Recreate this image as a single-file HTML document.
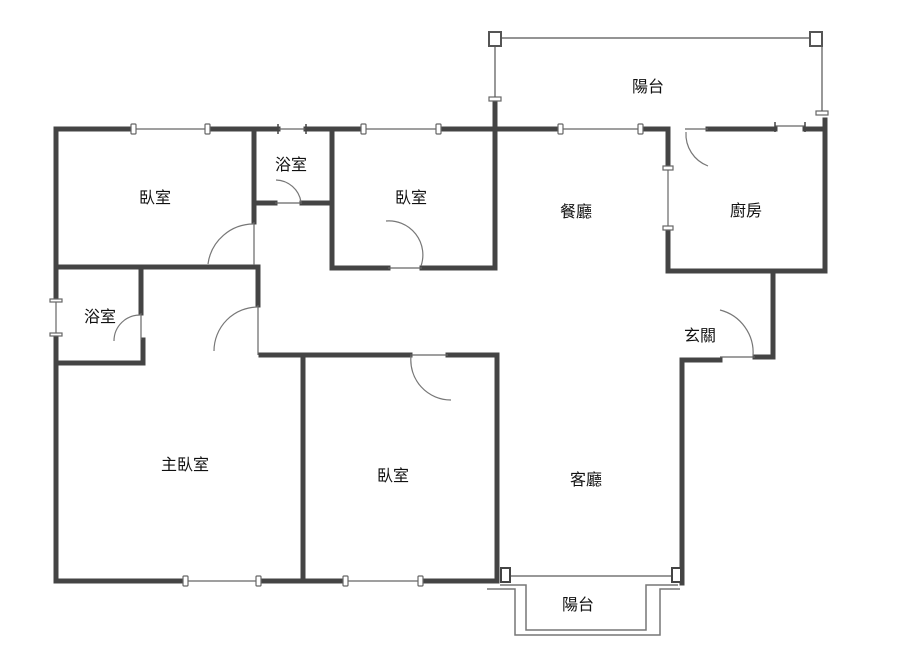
<!DOCTYPE html>
<html><head><meta charset="utf-8"><style>
html,body{margin:0;padding:0;background:#fff;width:900px;height:649px;overflow:hidden}
svg text{font-family:"Liberation Sans","Noto Sans CJK TC",sans-serif;font-size:16px;fill:#111;text-anchor:middle;dominant-baseline:middle}
</style></head><body>
<svg width="900" height="649" viewBox="0 0 900 649" xmlns="http://www.w3.org/2000/svg">
<g stroke="#444" stroke-width="5" fill="none" stroke-linecap="square">
<!-- top wall -->
<path d="M56 129H133 M208 129H278 M306 129H363 M438 129H560 M640 129H668 M708 129H775 M805 129H825"/>
<!-- left wall -->
<path d="M56 129V300 M56 335V581"/>
<!-- bottom -->
<path d="M56 581H185 M258 581H345 M420 581H497"/>
<!-- bedroom1 -->
<path d="M254 129V222 M56 267H257 M258 267V305"/>
<!-- small bath -->
<path d="M141 267V313 M143 340V363 M56 363H143"/>
<!-- upper bath -->
<path d="M256 203H275 M302 203H332 M332 129V268 M332 268H388 M422 268H495"/>
<!-- dining left wall -->
<path d="M495 100V268"/>
<!-- bedroom lower -->
<path d="M261 355H410 M448 355H497 M303 355V581 M497 355V581"/>
<!-- kitchen -->
<path d="M668 129V168 M668 228V271 M668 271H825 M825 120V271 M773 271V357 M755 357H773 M682 360H720 M682 360V583"/>
</g>
<!-- windows -->
<g stroke="#666" stroke-width="1.2" fill="#fff">
<path d="M133 129H208 M278 129H306 M363 129H438 M560 129H640 M775 126H805 M56 300V335 M185 581H258 M345 581H420 M388 268H422 M410 355H448 M275 203H302 M720 357H755 M685 129H708 M668 168V228 M258 305V355 M254 222V265 M141 313V340"/>
<rect x="131" y="124" width="5" height="10" rx="1"/><rect x="205" y="124" width="5" height="10" rx="1"/>
<rect x="361" y="124" width="5" height="10" rx="1"/><rect x="436" y="124" width="5" height="10" rx="1"/>
<rect x="558" y="124" width="5" height="10" rx="1"/><rect x="638" y="124" width="5" height="10" rx="1"/>
<rect x="183" y="576" width="5" height="10" rx="1"/><rect x="256" y="576" width="5" height="10" rx="1"/>
<rect x="343" y="576" width="5" height="10" rx="1"/><rect x="418" y="576" width="5" height="10" rx="1"/>
<rect x="663" y="166" width="10" height="4"/><rect x="663" y="226" width="10" height="4"/>
<rect x="50" y="299" width="12" height="3"/><rect x="50" y="333" width="12" height="3"/>
<rect x="489" y="97" width="12" height="4"/><rect x="816" y="111" width="12" height="4"/>
</g>
<g stroke="#444" stroke-width="1.5"><path d="M278 124V134 M306 124V134 M775 122V132 M805 122V132"/></g>
<!-- door arcs -->
<g stroke="#777" stroke-width="1.2" fill="none">
<path d="M254 224A46 46 0 0 0 208 264"/>
<path d="M301 202A26 26 0 0 0 276 180"/>
<path d="M421 266A34 34 0 0 0 386 221"/>
<path d="M141 315A26 26 0 0 0 114 341"/>
<path d="M258 307A44 44 0 0 0 214 351"/>
<path d="M411 356A40 40 0 0 0 451 400"/>
<path d="M686 132A34 34 0 0 0 708 166"/>
<path d="M753 356A44 44 0 0 0 720 310"/>
</g>
<!-- top balcony -->
<g stroke="#555" stroke-width="1.2" fill="#fff">
<path d="M501 38H812 M495 46V97 M822 46V111"/>
<rect x="489" y="32" width="12" height="14" stroke-width="2"/>
<rect x="810" y="32" width="12" height="14" stroke-width="2"/>
</g>
<!-- bottom balcony -->
<g stroke="#777" stroke-width="1.5" fill="none">
<path d="M510 576H673"/>
<path d="M487 589H515V635H660V589H680"/>
<path d="M500 585H526V630H646V585H678"/>
</g>
<g stroke="#444" stroke-width="2" fill="#fff">
<rect x="501" y="568" width="9" height="14"/><rect x="672" y="568" width="9" height="14"/>
</g>
<text x="155" y="199">臥室</text>
<text x="291" y="166">浴室</text>
<text x="411" y="199">臥室</text>
<text x="576" y="213">餐廳</text>
<text x="746" y="212">廚房</text>
<text x="648" y="88">陽台</text>
<text x="100" y="318">浴室</text>
<text x="700" y="337">玄關</text>
<text x="185" y="466">主臥室</text>
<text x="393" y="477">臥室</text>
<text x="586" y="481">客廳</text>
<text x="578" y="606">陽台</text>
</svg>
</body></html>
